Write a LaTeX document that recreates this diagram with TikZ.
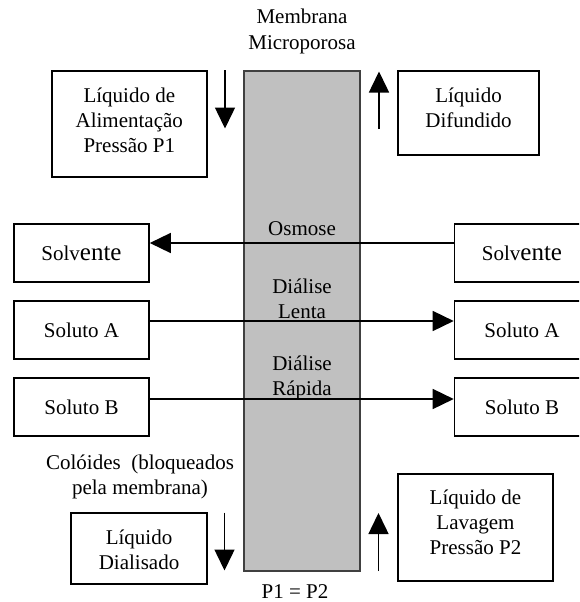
\documentclass[tikz,border=0pt]{standalone}
\usepackage{fontspec}
\setmainfont{Liberation Serif}
\usetikzlibrary{arrows.meta}
\definecolor{memgray}{HTML}{C0C0C0}
\definecolor{memedge}{HTML}{404040}
\newcommand{\solvword}{Solv{\fontsize{25}{25}\selectfont ente}}
\begin{document}
\begin{tikzpicture}[x=1pt,y=-1pt,
  box/.style={draw=black, line width=1.6pt, inner sep=0pt, fill=white, font=\fontsize{21}{25}\selectfont},
  lbl/.style={font=\fontsize{21}{25}\selectfont, align=center, inner sep=0pt, anchor=base},
  flow/.style={line width=1.5pt, -{Triangle[length=21pt,width=20pt]}},
  membrane/.style={draw=memedge, line width=1.2pt, fill=memgray, inner sep=0pt},
  sidebox/.style={box, minimum width=135pt, minimum height=58pt},
]
\useasboundingbox (0,0) rectangle (579,602);
\clip (0,0) rectangle (579,602);
\fill[white] (0,0) rectangle (579,602);

% membrane
\node[membrane, minimum width=116pt, minimum height=500pt] (mem) at (302,321) {};
\node[lbl] (memlbl) at (302,50) {Membrana\\[1pt]Microporosa};

% top boxes
\node[box, minimum width=155pt, minimum height=106.5pt] (feed) at (129.3,124) {};
\node[lbl] (feedtxt) at (129.3,152) {Líquido de\\Alimentação\\Pressão P1};
\node[box, minimum width=141.5pt, minimum height=84.5pt] (diff) at (468.5,113) {};
\node[lbl] (difftxt) at (468.5,127) {Líquido\\Difundido};

% bottom boxes
\node[box, minimum width=135.5pt, minimum height=71.5pt] (dial) at (139,548.5) {};
\node[lbl] (dialtxt) at (139,569) {Líquido\\Dialisado};
\node[box, minimum width=155pt, minimum height=106.5pt] (wash) at (475.5,527.5) {};
\node[lbl] (washtxt) at (475.5,554) {Líquido de\\Lavagem\\Pressão P2};

% side boxes
\node[sidebox] (solvL) at (81.5,253) {\solvword};
\node[sidebox] (solvR) at (522,253) {\solvword};
\node[sidebox] (solAL) at (81.5,330) {Soluto A};
\node[sidebox] (solAR) at (522,330) {Soluto A};
\node[sidebox] (solBL) at (81.5,407) {Soluto B};
\node[sidebox] (solBR) at (522,407) {Soluto B};

% membrane labels
\node[lbl] (osm) at (302,235) {Osmose};
\node[lbl] (dlenta) at (302,318) {Diálise\\Lenta};
\node[lbl] (drapida) at (302,395) {Diálise\\Rápida};

% other labels
\node[lbl] (coloid) at (140,494) {Colóides\ \ (bloqueados\\pela membrana)};
\node[lbl] (peq) at (295,598) {P1 = P2};

% vertical arrows
\coordinate (a1s) at (225,70);   \coordinate (a1e) at (225,128.5);
\coordinate (a2s) at (379,129);  \coordinate (a2e) at (379,71.5);
\coordinate (a3s) at (224.5,512.5); \coordinate (a3e) at (224.5,570.5);
\coordinate (a4s) at (378.5,571); \coordinate (a4e) at (378.5,513);
\draw[flow] (a1s) -- (a1e);
\draw[flow] (a2s) -- (a2e);
\draw[flow] (a3s) -- (a3e);
\draw[flow] (a4s) -- (a4e);

% horizontal arrows
\draw[flow] ([yshift=10pt]solvR.west) -- ([yshift=10pt]solvL.east);
\draw[flow] ([yshift=9pt]solAL.east) -- ([yshift=9pt]solAR.west);
\draw[flow] ([yshift=8pt]solBL.east) -- ([yshift=8pt]solBR.west);
\end{tikzpicture}
\end{document}
